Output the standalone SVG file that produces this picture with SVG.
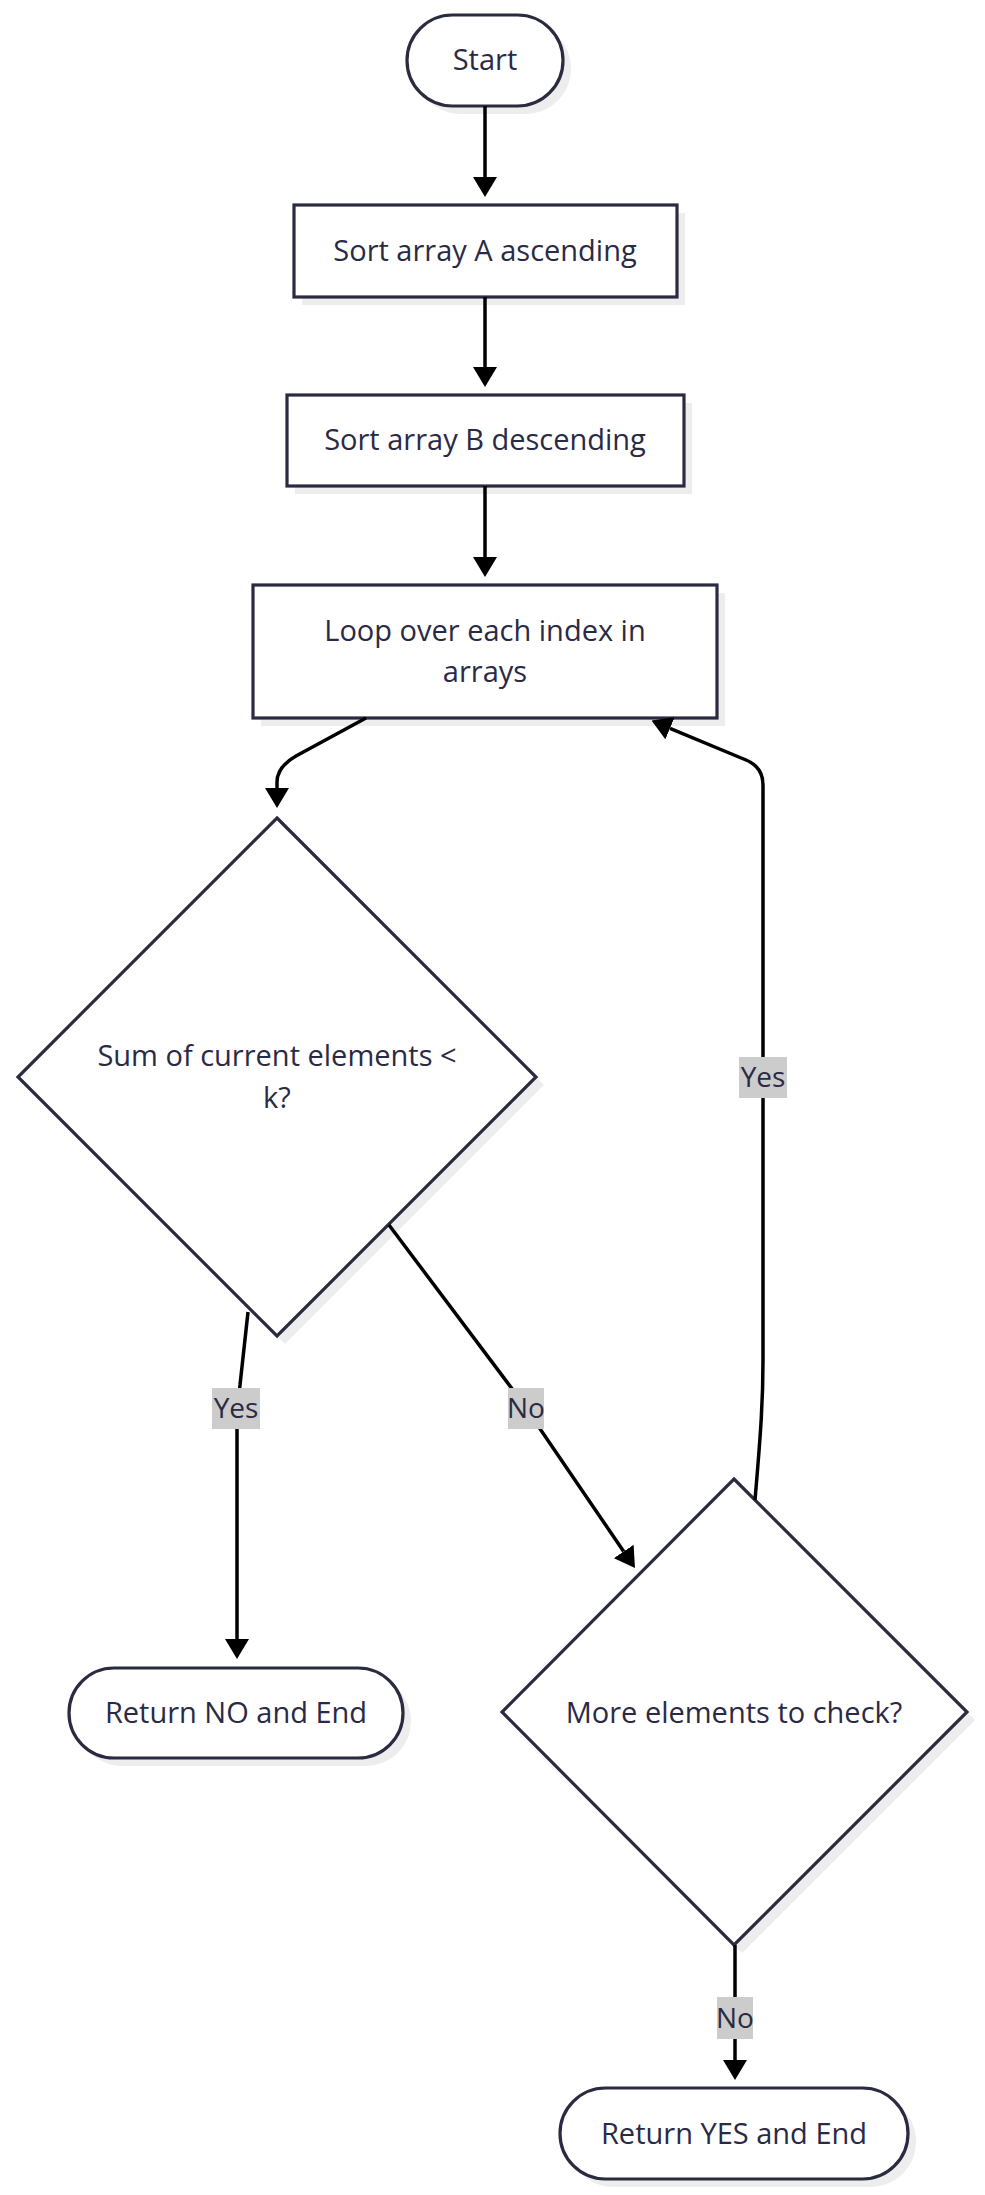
<svg xmlns="http://www.w3.org/2000/svg" width="985" height="2195" viewBox="0 0 985 2195">
<defs>
<marker id="arrow" viewBox="0 0 20 24" refX="0" refY="12" markerWidth="20" markerHeight="24" markerUnits="userSpaceOnUse" orient="auto">
<path d="M0,0 L20,12 L0,24 Z" fill="#000"/>
</marker>
<style>
.node{fill:#fff;stroke:#2a2a40;stroke-width:3.2}
.shadow{fill:#ededed;stroke:none}
.t{font-family:"Open Sans","Liberation Sans",sans-serif;font-size:29px;fill:#2a2a45;text-anchor:middle;dominant-baseline:central}
.edge{fill:none;stroke:#000;stroke-width:3.5}
.lbg{fill:#cccccc}
.lt{font-family:"Open Sans","Liberation Sans",sans-serif;font-size:28px;fill:#2a2a45;text-anchor:middle;dominant-baseline:central}
</style>
</defs>
<rect width="985" height="2195" fill="#fff"/>
<g id="start">
<rect class="shadow" x="415" y="23" width="156" height="91" rx="45.5"/>
<rect class="node" x="407" y="15" width="156" height="91" rx="45.5"/>
<text class="t" x="485" y="58">Start</text>
</g>
<g id="sortA">
<rect class="shadow" x="302" y="213" width="383" height="92"/>
<rect class="node" x="294" y="205" width="383" height="92"/>
<text class="t" x="485" y="249">Sort array A ascending</text>
</g>
<g id="sortB">
<rect class="shadow" x="295" y="403" width="397" height="91"/>
<rect class="node" x="287" y="395" width="397" height="91"/>
<text class="t" x="485" y="438">Sort array B descending</text>
</g>
<g id="loop">
<rect class="shadow" x="261" y="593" width="464" height="133"/>
<rect class="node" x="253" y="585" width="464" height="133"/>
<text class="t" x="485" y="629">Loop over each index in</text>
<text class="t" x="485" y="670">arrays</text>
</g>
<g id="sumCheck">
<polygon class="shadow" points="285,826 544,1085 285,1344 26,1085"/>
<polygon class="node" points="277,818 536,1077 277,1336 18,1077"/>
<text class="t" x="277" y="1054">Sum of current elements &lt;</text>
<text class="t" x="277" y="1096">k?</text>
</g>
<g id="moreCheck">
<polygon class="shadow" points="742,1487 975,1720 742,1953 510,1720"/>
<polygon class="node" points="734,1479 967,1712 734,1945 502,1712"/>
<text class="t" x="734" y="1711">More elements to check?</text>
</g>
<g id="returnNo">
<rect class="shadow" x="77" y="1676" width="334" height="90" rx="45"/>
<rect class="node" x="69" y="1668" width="334" height="90" rx="45"/>
<text class="t" x="236" y="1711">Return NO and End</text>
</g>
<g id="returnYes">
<rect class="shadow" x="568" y="2096" width="348" height="91" rx="45.5"/>
<rect class="node" x="560" y="2088" width="348" height="91" rx="45.5"/>
<text class="t" x="734" y="2132">Return YES and End</text>
</g>
<g id="edges">
<path class="edge" d="M485,106 L485,177" marker-end="url(#arrow)"/>
<path class="edge" d="M485,297 L485,367" marker-end="url(#arrow)"/>
<path class="edge" d="M485,486 L485,557" marker-end="url(#arrow)"/>
<path class="edge" d="M366,718 L296,756 Q277,767 277,782 L277,788" marker-end="url(#arrow)"/>
<path class="edge" d="M248,1312 L240,1385 Q237,1405 237,1425 L237,1639" marker-end="url(#arrow)"/>
<path class="edge" d="M389,1225 L519,1398 L623.7,1551.5" marker-end="url(#arrow)"/>
<path class="edge" d="M755,1500 C761,1430 763,1400 763,1360 L763,785 Q763,767 746,760 L670,728.3" marker-end="url(#arrow)"/>
<path class="edge" d="M735,1945 L735,2060" marker-end="url(#arrow)"/>
<g id="edge-labels">
<rect class="lbg" x="739" y="1057" width="48" height="41"/>
<text class="lt" x="763" y="1076">Yes</text>
<rect class="lbg" x="212" y="1388" width="48" height="41"/>
<text class="lt" x="236" y="1407">Yes</text>
<rect class="lbg" x="508" y="1388" width="36" height="41"/>
<text class="lt" x="526" y="1407">No</text>
<rect class="lbg" x="717" y="1997" width="36" height="42"/>
<text class="lt" x="735" y="2017">No</text>
</g>
</g>
</svg>
